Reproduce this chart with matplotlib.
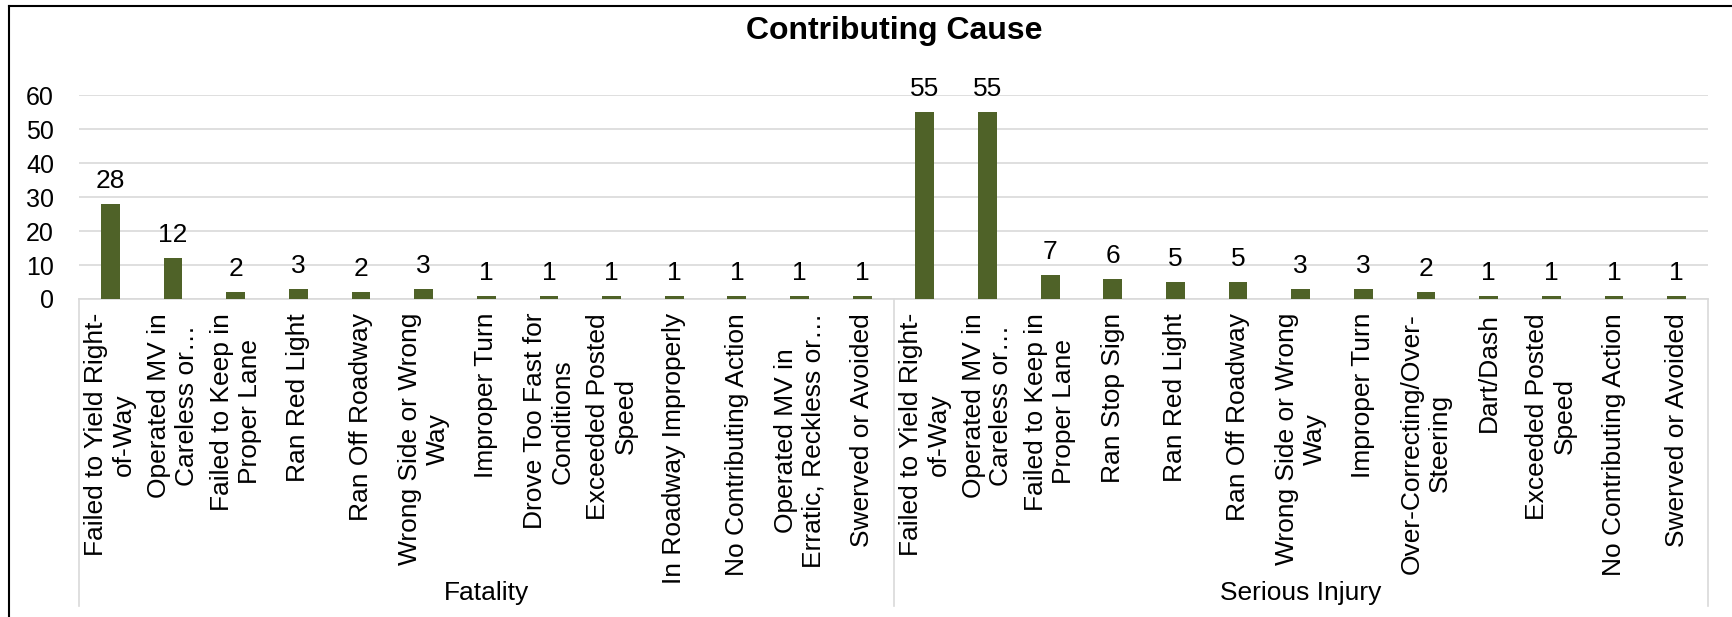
import matplotlib
matplotlib.use("Agg")
import matplotlib.pyplot as plt
from matplotlib.lines import Line2D

plt.rcParams['font.family'] = ['Liberation Sans', 'DejaVu Sans']

# Data
groups = ["Fatality", "Serious Injury"]

fatality_causes = [
    "Failed to Yield Right-\nof-Way",
    "Operated MV in\nCareless or…",
    "Failed to Keep in\nProper Lane",
    "Ran Red Light",
    "Ran Off Roadway",
    "Wrong Side or Wrong\nWay",
    "Improper Turn",
    "Drove Too Fast for\nConditions",
    "Exceeded Posted\nSpeed",
    "In Roadway Improperly",
    "No Contributing Action",
    "Operated MV in\nErratic, Reckless or…",
    "Swerved or Avoided",
]
fatality_counts = [28, 12, 2, 3, 2, 3, 1, 1, 1, 1, 1, 1, 1]

injury_causes = [
    "Failed to Yield Right-\nof-Way",
    "Operated MV in\nCareless or…",
    "Failed to Keep in\nProper Lane",
    "Ran Stop Sign",
    "Ran Red Light",
    "Ran Off Roadway",
    "Wrong Side or Wrong\nWay",
    "Improper Turn",
    "Over-Correcting/Over-\nSteering",
    "Dart/Dash",
    "Exceeded Posted\nSpeed",
    "No Contributing Action",
    "Swerved or Avoided",
]
injury_counts = [55, 55, 7, 6, 5, 5, 3, 3, 2, 1, 1, 1, 1]

y_ticks = [0, 10, 20, 30, 40, 50, 60]

# Layout (pixels)
W, H = 1732, 617
fig = plt.figure(figsize=(W / 100, H / 100), dpi=100)
ax_left, ax_right, ax_bottom, ax_top = 79, 1708, 299, 95.3
ax = fig.add_axes([ax_left / W, 1 - ax_bottom / H,
                   (ax_right - ax_left) / W, (ax_bottom - ax_top) / H])

labels = fatality_causes + injury_causes
values = fatality_counts + injury_counts
xs = list(range(len(values)))

bar_color = "#4F6228"
grid_color = "#D9D9D9"
fs = 19

ax.bar(xs, values, width=0.30, color=bar_color, zorder=3)
ax.set_xlim(-0.5, len(values) - 0.5)
ax.set_ylim(0, 60)
ax.set_yticks(y_ticks)
ax.grid(axis="y", color=grid_color, lw=1.2)
ax.set_axisbelow(True)
for s in ["top", "right", "left"]:
    ax.spines[s].set_visible(False)
ax.spines["bottom"].set_color(grid_color)
ax.spines["bottom"].set_linewidth(1.2)

ax.tick_params(axis="y", length=0, pad=18, labelsize=18)
ax.set_xticks(xs)
ax.set_xticklabels(labels, rotation=90, va="top", ha="center",
                   multialignment="center", linespacing=1.2, fontsize=fs)
ax.tick_params(axis="x", length=0, pad=10)

# Value labels above bars
for xi, v in zip(xs, values):
    ax.annotate(str(v), (xi, v), xytext=(0, 11.5), textcoords="offset points",
                ha="center", va="baseline", fontsize=fs, annotation_clip=False)

# Group separators and group names below the category labels
trans = ax.get_xaxis_transform()
ax_h = ax_bottom - ax_top
sep_bottom = -(606 - ax_bottom) / ax_h
n_f = len(fatality_counts)
for xb in [-0.5, n_f - 0.5, len(values) - 0.5]:
    ax.add_line(Line2D([xb, xb], [0, sep_bottom], transform=trans,
                       color=grid_color, lw=1.2, clip_on=False))

group_y = -(593 - ax_bottom) / ax_h
group_centers = [(n_f - 1) / 2, n_f + (len(injury_counts) - 1) / 2]
for name, xc in zip(groups, group_centers):
    ax.text(xc, group_y, name, transform=trans, ha="center", va="center",
            fontsize=fs)

# Title
fig.text(894 / W, 1 - 31 / H, "Contributing Cause", ha="center", va="center",
         fontsize=23, fontweight="bold")

# Chart frame
fig.add_artist(Line2D([8.5 / W, 8.5 / W], [0, 1 - 5.5 / H],
                      transform=fig.transFigure, color="black", lw=1.5))
fig.add_artist(Line2D([8.5 / W, 1], [1 - 5.5 / H, 1 - 5.5 / H],
                      transform=fig.transFigure, color="black", lw=1.5))

fig.savefig("out.png", dpi=100)
